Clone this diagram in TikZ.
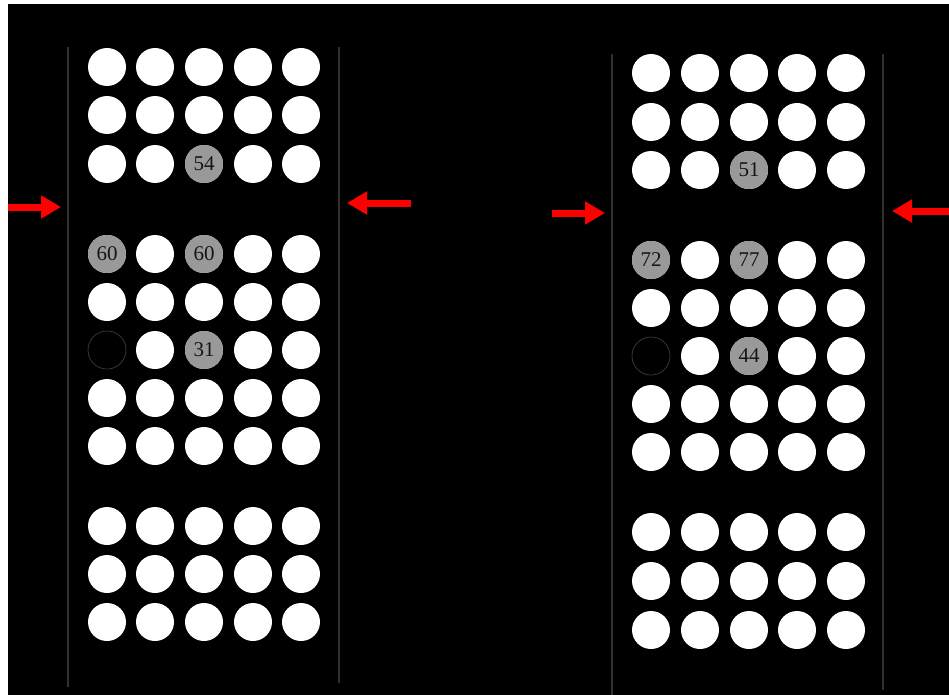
\documentclass[tikz,border=0pt]{standalone}
\usepackage{fontspec}
\setmainfont{Liberation Serif}
\usetikzlibrary{arrows.meta}
\definecolor{hitgray}{HTML}{999999}
\definecolor{railgray}{HTML}{303030}
\definecolor{pushred}{HTML}{FF0000}
\definecolor{inkdark}{HTML}{151515}
\tikzset{
  dot/.style={circle, fill=white, minimum size=38pt, inner sep=0pt},
  hitdot/.style={dot, fill=hitgray, text=inkdark, font=\fontsize{21}{21}\selectfont},
  gapdot/.style={dot, fill=black, draw=railgray, line width=0.8pt},
  rail/.style={draw=railgray, line width=1.6pt},
  pusharrow/.style={-{Triangle[length=20pt,width=22pt]}, draw=pushred, line width=7pt}
}
\begin{document}
\begin{tikzpicture}[x=1pt, y=-1pt]
  \useasboundingbox (0,0) rectangle (949,695);
  \fill[white] (0,0) rectangle (949,695);
  \fill[black] (8,4) rectangle (949,695);

  % left plate
  \draw[rail] (68,47) -- (68,687);
  \draw[rail] (339,47) -- (339,683);
  \foreach \y [count=\r] in {67,115,164,254,302,350,398,446,526,574,622}
    \foreach \x [count=\c] in {107,155,204,253,301}
      \node[dot] (L\r-\c) at (\x,\y) {};
  \node[hitdot] (L3-3h) at (L3-3) {54};
  \node[hitdot] (L4-1h) at (L4-1) {60};
  \node[hitdot] (L4-3h) at (L4-3) {60};
  \node[gapdot] (L6-1h) at (L6-1) {};
  \node[hitdot] (L6-3h) at (L6-3) {31};

  % right plate
  \draw[rail] (612,54) -- (612,695);
  \draw[rail] (883,54) -- (883,690);
  \foreach \y [count=\r] in {73,122,170,260,308,356,404,452,532,581,630}
    \foreach \x [count=\c] in {651,700,749,797,846}
      \node[dot] (R\r-\c) at (\x,\y) {};
  \node[hitdot] (R3-3h) at (R3-3) {51};
  \node[hitdot] (R4-1h) at (R4-1) {72};
  \node[hitdot] (R4-3h) at (R4-3) {77};
  \node[gapdot] (R6-1h) at (R6-1) {};
  \node[hitdot] (R6-3h) at (R6-3) {44};

  % squeeze arrows
  \coordinate (la0) at (8,207);   \coordinate (la1) at (61,207);
  \coordinate (lb0) at (411,203); \coordinate (lb1) at (347,203);
  \coordinate (ra0) at (552,213); \coordinate (ra1) at (605,213);
  \coordinate (rb0) at (949,211); \coordinate (rb1) at (892,211);
  \draw[pusharrow] (la0) -- (la1);
  \draw[pusharrow] (lb0) -- (lb1);
  \draw[pusharrow] (ra0) -- (ra1);
  \draw[pusharrow] (rb0) -- (rb1);
\end{tikzpicture}
\end{document}
